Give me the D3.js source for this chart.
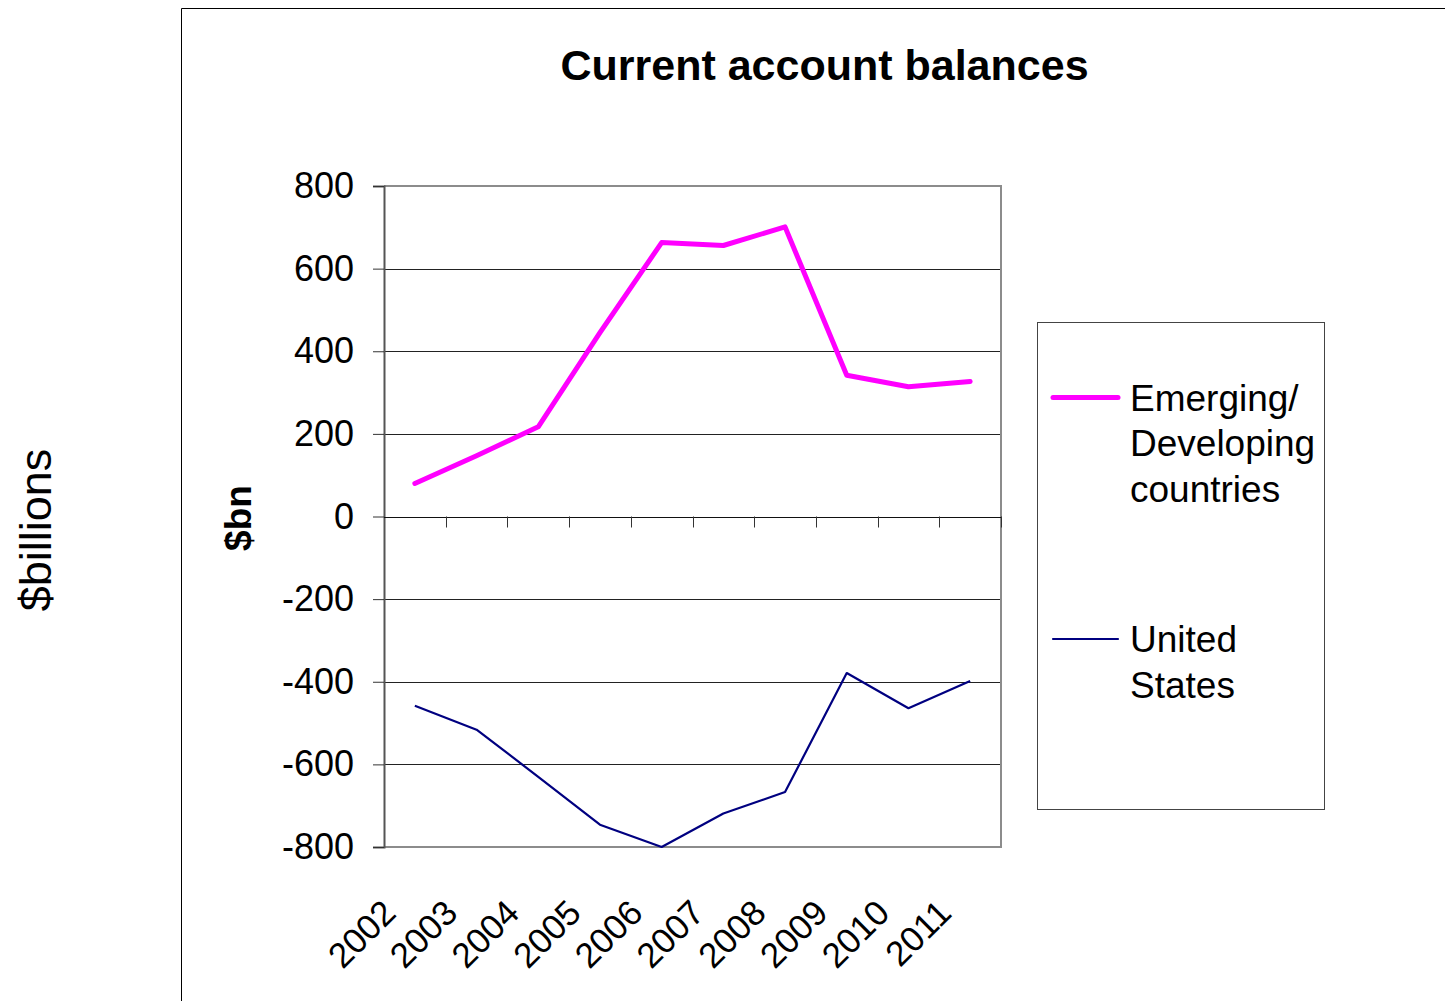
<!DOCTYPE html>
<html>
<head>
<meta charset="utf-8">
<script src="https://cdn.jsdelivr.net/npm/d3@7"></script>
<style>
  html, body { margin: 0; padding: 0; background: #fff; }
  svg { display: block; font-family: "Liberation Sans", Arial, sans-serif; }
</style>
</head>
<body>
<svg id="chart" width="1445" height="1001"></svg>
<script>
// Current account balances, $bn
const years = ["2002", "2003", "2004", "2005", "2006", "2007", "2008", "2009", "2010", "2011"];
const emerging = [80, 147, 217, 445, 663, 656, 701, 342, 314, 327];
const unitedStates = [-458, -516, -630, -746, -800, -719, -667, -379, -464, -398];
const yTicks = [800, 600, 400, 200, 0, -200, -400, -600, -800];
const seriesNames = [["Emerging/", "Developing", "countries"], ["United", "States"]];

const svg = d3.select("#chart");

// outer frame (left and top edges)
svg.append("path")
  .attr("d", "M181.5,1001 V8.5 H1445")
  .attr("fill", "none").attr("stroke", "#000").attr("stroke-width", 1);

// title
svg.append("text")
  .attr("x", 824.5).attr("y", 80)
  .attr("text-anchor", "middle")
  .attr("font-size", 43).attr("font-weight", "bold")
  .text("Current account balances");

// outer axis caption
svg.append("text")
  .attr("transform", "translate(51,530) rotate(-90)")
  .attr("text-anchor", "middle")
  .attr("font-size", 45)
  .text("$billions");

const plot = { left: 384, right: 1001, top: 186, bottom: 847 };

const x = d3.scaleBand().domain(years).range([plot.left, plot.right]).padding(0);
const y = d3.scaleLinear().domain([-800, 800]).range([plot.bottom, plot.top]);

// gridlines
svg.append("g")
  .selectAll("line")
  .data(yTicks.filter(d => d !== 800 && d !== -800 && d !== 0))
  .join("line")
  .attr("x1", plot.left).attr("x2", plot.right)
  .attr("y1", d => Math.round(y(d)) + 0.5).attr("y2", d => Math.round(y(d)) + 0.5)
  .attr("stroke", "#222").attr("stroke-width", 1);

// plot area border (top, right, bottom)
svg.append("path")
  .attr("d", `M${plot.left},${plot.top} H${plot.right} V${plot.bottom} H${plot.left}`)
  .attr("fill", "none").attr("stroke", "#8c8c8c").attr("stroke-width", 2);

// y axis
const yAxis = d3.axisLeft(y)
  .tickValues(yTicks)
  .tickFormat(d => String(d))
  .tickSize(11)
  .tickPadding(19);
const gy = svg.append("g")
  .attr("transform", `translate(${plot.left},0)`)
  .call(yAxis);
gy.select(".domain").attr("stroke", "#555").attr("stroke-width", 2);
gy.selectAll(".tick line").attr("stroke", "#333");
gy.selectAll(".tick text")
  .attr("font-size", 36)
  .attr("font-family", "'Liberation Sans', Arial, sans-serif")
  .attr("fill", "#000");

// x axis on the zero line, ticks at category boundaries
svg.append("line")
  .attr("x1", plot.left).attr("x2", plot.right)
  .attr("y1", Math.round(y(0)) + 0.5).attr("y2", Math.round(y(0)) + 0.5)
  .attr("stroke", "#111").attr("stroke-width", 1);
svg.append("g")
  .selectAll("line")
  .data(years)
  .join("line")
  .attr("x1", d => Math.round(x(d) + x.bandwidth()) + 0.5)
  .attr("x2", d => Math.round(x(d) + x.bandwidth()) + 0.5)
  .attr("y1", y(0)).attr("y2", y(0) + 11)
  .attr("stroke", "#333").attr("stroke-width", 1);

// rotated category labels below the plot
svg.append("g")
  .selectAll("text")
  .data(years)
  .join("text")
  .attr("transform", d => `translate(${x(d) + x.bandwidth() / 2 - 17},915) rotate(-45)`)
  .attr("text-anchor", "end")
  .attr("font-size", 35)
  .text(d => d);

// inner axis caption
svg.append("text")
  .attr("transform", "translate(251,518) rotate(-90)")
  .attr("text-anchor", "middle")
  .attr("font-size", 37).attr("font-weight", "bold")
  .text("$bn");

// series lines
const line = d3.line()
  .x((d, i) => x(years[i]) + x.bandwidth() / 2)
  .y(d => y(d));

svg.append("path")
  .datum(unitedStates)
  .attr("d", line)
  .attr("fill", "none").attr("stroke", "#000080").attr("stroke-width", 2.2)
  .attr("stroke-linejoin", "round");

svg.append("path")
  .datum(emerging)
  .attr("d", line)
  .attr("fill", "none").attr("stroke", "#ff00ff").attr("stroke-width", 5)
  .attr("stroke-linejoin", "round").attr("stroke-linecap", "round");

// legend
const legend = svg.append("g");
legend.append("rect")
  .attr("x", 1037.5).attr("y", 322.5).attr("width", 287).attr("height", 487)
  .attr("fill", "#fff").attr("stroke", "#444").attr("stroke-width", 1);

const legendItems = [
  { lines: seriesNames[0], color: "#ff00ff", width: 5, y: 397.5 },
  { lines: seriesNames[1], color: "#000080", width: 2.2, y: 639 }
];
legendItems.forEach(item => {
  legend.append("line")
    .attr("x1", 1053).attr("x2", 1118)
    .attr("y1", item.y).attr("y2", item.y)
    .attr("stroke", item.color).attr("stroke-width", item.width)
    .attr("stroke-linecap", "round");
  const t = legend.append("text")
    .attr("x", 1130).attr("y", item.y + 13)
    .attr("font-size", 37);
  item.lines.forEach((s, i) => {
    t.append("tspan").attr("x", 1130).attr("dy", i === 0 ? 0 : 45.5).text(s);
  });
});
</script>
</body>
</html>
